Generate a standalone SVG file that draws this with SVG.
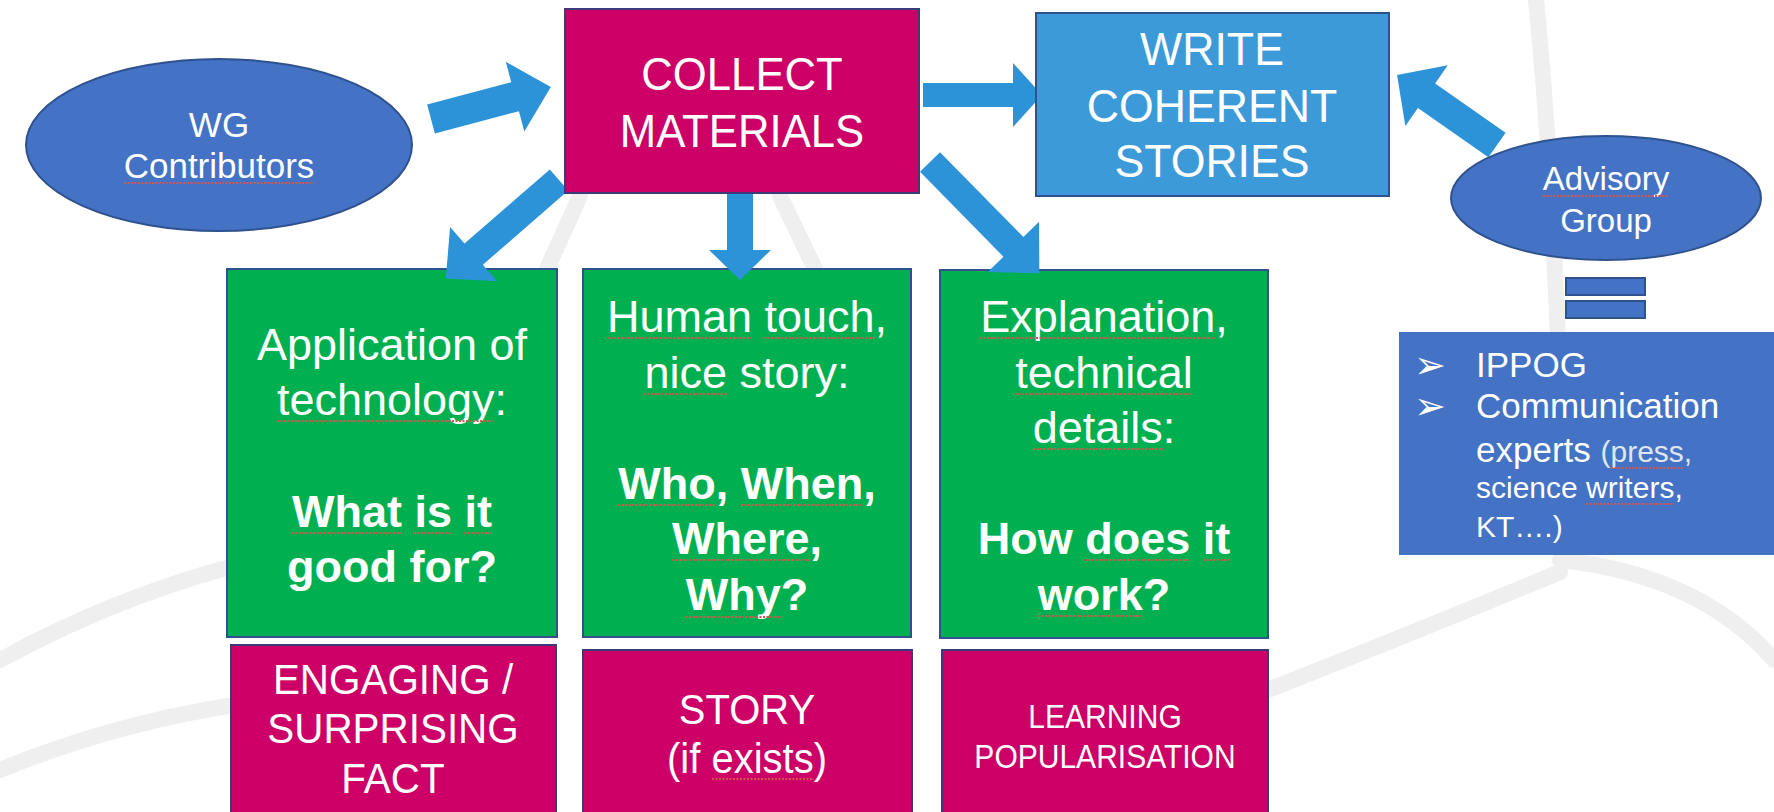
<svg xmlns="http://www.w3.org/2000/svg" width="1774" height="812" viewBox="0 0 1774 812">
<style>
text{font-family:"Liberation Sans",Arial,sans-serif;fill:#ffffff;text-anchor:middle}
.b{font-weight:bold}
.sq{stroke:#d4574e;stroke-width:2;stroke-dasharray:2 1.5;fill:none}
.bg{fill:none;stroke:#efefef;stroke-width:16;stroke-linecap:round}
.mag{fill:#cc0066;stroke:#3d3a7a;stroke-width:2}
.grn{fill:#00b050;stroke:#2f528f;stroke-width:2}
.ell{fill:#4472c4;stroke:#2f528f;stroke-width:2}
.arr{fill:#2d93d8}
.g45{font-size:45px}
.m43{font-size:43px}
.lst{text-anchor:start}
.bul{font-family:"DejaVu Sans",sans-serif;font-size:38px;text-anchor:start}
</style>
<rect width="1774" height="812" fill="#ffffff"/>
<g id="background">
<path class="bg" d="M1536 0 C1548 120 1554 240 1558 340"/>
<path class="bg" d="M1268 690 Q1420 630 1560 572"/>
<path class="bg" d="M1560 560 Q1700 575 1774 660"/>
<path class="bg" d="M0 660 Q110 600 226 568"/>
<path class="bg" d="M0 770 Q110 725 228 706"/>
<path class="bg" d="M533 300 L580 196"/>
<path class="bg" d="M780 196 L830 300"/>
</g>
<g id="app">
<rect class="grn" x="227" y="269" width="330" height="368"/>
<text class="g45" x="392" y="360">Application of</text>
<text class="g45" x="392" y="415">technology:</text>
<text class="g45 b" x="392" y="527">What is it</text>
<text class="g45 b" x="392" y="582">good for?</text>
<path class="sq" d="M277 421H494M292 533H402M414 533H452M464 533H492"/>
</g>
<g id="human">
<rect class="grn" x="583" y="269" width="328" height="368"/>
<text class="g45" x="747" y="332">Human touch,</text>
<text class="g45" x="747" y="388">nice story:</text>
<text class="g45 b" x="747" y="499">Who, When,</text>
<text class="g45 b" x="747" y="554">Where,</text>
<text class="g45 b" x="747" y="610">Why?</text>
<path class="sq" d="M607 338H752M764 338H875M644 394H727M618 505H716M741 505H863M672 560H810M686 617H781"/>
</g>
<g id="explanation">
<rect class="grn" x="940" y="270" width="328" height="368"/>
<text class="g45" x="1104" y="332">Explanation,</text>
<text class="g45" x="1104" y="388">technical</text>
<text class="g45" x="1104" y="443">details:</text>
<text class="g45 b" x="1104" y="554">How does it</text>
<text class="g45 b" x="1104" y="610">work?</text>
<path class="sq" d="M980 338H1215M1015 394H1193M1033 449H1163M1085 560H1190M1203 560H1230M1038 616H1143"/>
</g>
<g id="engaging">
<rect class="mag" x="231" y="645" width="325" height="170"/>
<g transform="translate(393 0) scale(0.94 1)">
<text class="m43" x="0" y="694">ENGAGING /</text>
<text class="m43" x="0" y="743">SURPRISING</text>
<text class="m43" x="0" y="793">FACT</text>
</g>
</g>
<g id="story">
<rect class="mag" x="583" y="650" width="329" height="165"/>
<g transform="translate(747 0) scale(0.93 1)">
<text class="m43" x="0" y="724">STORY</text>
<text class="m43" x="0" y="773">(if exists)</text>
</g>
<path class="sq" d="M712 779H814"/>
</g>
<g id="learning">
<rect class="mag" x="942" y="650" width="326" height="165"/>
<g transform="translate(1105 0) scale(0.91 1)">
<text x="0" y="728" font-size="33">LEARNING</text>
<text x="0" y="768" font-size="33">POPULARISATION</text>
</g>
</g>
<g id="connectors">
<polygon class="arr" transform="translate(431 119) rotate(-14.9)" points="0,-15 87,-15 87,-36 124,0 87,36 87,15 0,15"/>
<polygon class="arr" transform="translate(923 95)" points="0,-12 90,-12 90,-32 119,0 90,32 90,12 0,12"/>
<polygon class="arr" transform="translate(740 191) rotate(90)" points="0,-13 59,-13 59,-31 89,0 59,31 59,13 0,13"/>
<polygon class="arr" transform="translate(559 180) rotate(139)" points="0,-14 113,-14 113,-36 150,0 113,36 113,14 0,14"/>
<polygon class="arr" transform="translate(930 162) rotate(45.5)" points="0,-14 119,-14 119,-36 156,0 119,36 119,14 0,14"/>
<polygon class="arr" transform="translate(1497 145) rotate(215)" points="0,-15 86,-15 86,-37 122,0 86,37 86,15 0,15"/>
</g>
<g id="wg">
<ellipse class="ell" cx="219" cy="145" rx="193" ry="86"/>
<text x="219" y="137" font-size="35">WG</text>
<text x="219" y="178" font-size="35">Contributors</text>
<path class="sq" d="M124 183H314"/>
</g>
<g id="collect">
<rect class="mag" x="565" y="9" width="354" height="184"/>
<g transform="translate(742 0) scale(0.93 1)">
<text x="0" y="90" font-size="47">COLLECT</text>
<text x="0" y="147" font-size="47">MATERIALS</text>
</g>
</g>
<g id="write">
<rect x="1036" y="13" width="353" height="183" fill="#3c9ad9" stroke="#2f528f" stroke-width="2"/>
<g transform="translate(1212 0) scale(0.95 1)">
<text x="0" y="65" font-size="47">WRITE</text>
<text x="0" y="122" font-size="47">COHERENT</text>
<text x="0" y="177" font-size="47">STORIES</text>
</g>
</g>
<g id="advisory">
<ellipse class="ell" cx="1606" cy="198" rx="155" ry="62"/>
<text x="1606" y="190" font-size="33">Advisory</text>
<text x="1606" y="232" font-size="33">Group</text>
<path class="sq" d="M1543 196H1669"/>
</g>
<g id="equals">
<rect class="ell" x="1566" y="278" width="79" height="17"/>
<rect class="ell" x="1566" y="301" width="79" height="17"/>
</g>
<g id="members">
<rect x="1399" y="332" width="380" height="223" fill="#4472c4"/>
<text class="bul" x="1414" y="378">➢</text>
<text class="bul" x="1414" y="419">➢</text>
<text class="lst" x="1476" y="377" font-size="35">IPPOG</text>
<text class="lst" x="1476" y="418" font-size="35">Communication</text>
<text class="lst" x="1476" y="462" font-size="35">experts <tspan font-size="30" fill="#dfe5f2">(press,</tspan></text>
<text class="lst" x="1476" y="498" font-size="30" fill="#dfe5f2">science writers,</text>
<text class="lst" x="1476" y="537" font-size="30" fill="#dfe5f2">KT….)</text>
<path class="sq" d="M1611 468H1684M1586 504H1674"/>
</g>
</svg>
